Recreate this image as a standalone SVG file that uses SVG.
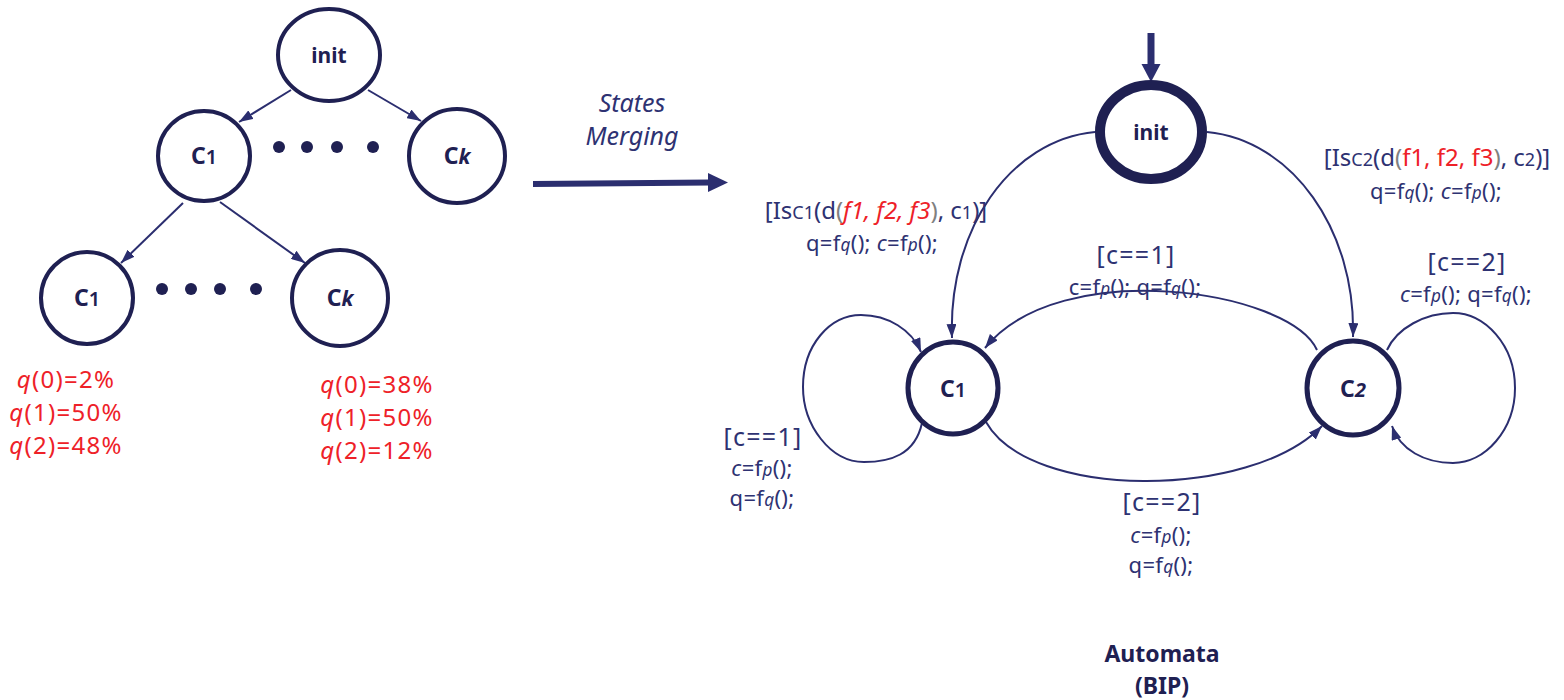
<svg xmlns="http://www.w3.org/2000/svg" width="1564" height="700" viewBox="0 0 1564 700">
<defs>
<style>
.nd{fill:#ffffff;stroke:#1f2052;}
.t4{stroke-width:4;}
.t5{stroke-width:5;}
.t10{stroke-width:10;}
.lbl{font-family:"Noto Sans","Open Sans",sans-serif;fill:#2e3272;}
.nt{font-family:"Noto Sans","Open Sans",sans-serif;fill:#1f2052;font-weight:bold;text-anchor:middle;}
.red{font-family:"Noto Sans","Open Sans",sans-serif;fill:#ee2128;font-size:24px;letter-spacing:1.3px;text-anchor:middle;}
.ed{fill:none;stroke:#2b2e6f;stroke-width:2;}
.mid{text-anchor:middle;}
.g{fill:#808080;}
.r{fill:#ee2128;}
.sub{font-size:75%;}
.sb{font-size:78%;}
.it{font-style:italic;}
.gd{font-size:25px;letter-spacing:1.3px;}
.ac{font-size:22px;letter-spacing:0.3px;}
</style>
<marker id="ah" viewBox="0 0 14 10" refX="14" refY="5" markerWidth="14" markerHeight="10" markerUnits="userSpaceOnUse" orient="auto">
<path d="M0,0 L14,5 L0,10 z" fill="#2b2e6f"/>
</marker>
</defs>
<rect width="1564" height="700" fill="#ffffff"/>

<g id="connectors">
<path class="ed" d="M291,90 L239,122" marker-end="url(#ah)"/>
<path class="ed" d="M368,90 L421,121" marker-end="url(#ah)"/>
<path class="ed" d="M183,203 L121,263" marker-end="url(#ah)"/>
<path class="ed" d="M220,202 L305,263" marker-end="url(#ah)"/>
<path d="M533,184 L710,182.5" stroke="#2b2e6f" stroke-width="6" fill="none"/>
<path d="M708,173 L728,182.5 L708,192 z" fill="#2b2e6f"/>
<path d="M1151,33 L1151,66" stroke="#2b2e6f" stroke-width="7" fill="none"/>
<path d="M1141.5,64 L1151,82 L1160.5,64 z" fill="#2b2e6f"/>
<path class="ed" d="M1095,132 C1010,140 948,230 952,338" marker-end="url(#ah)"/>
<path class="ed" d="M1207,132 C1292,140 1356,230 1353,337" marker-end="url(#ah)"/>
<path class="ed" d="M1317,350 C1290,290 1060,255 985,348" marker-end="url(#ah)"/>
<path class="ed" d="M986,422 C1030,500 1250,500 1322,426" marker-end="url(#ah)"/>
<path class="ed" d="M922,423 C915,455 890,462 864,462 C830,462 803,425 803,387 C803,345 830,315 861,315 C888,315 912,330 921,352" marker-end="url(#ah)"/>
<path class="ed" d="M1387,350 C1397,328 1425,313 1453,313 C1485,313 1515,345 1515,388 C1515,430 1485,463 1453,463 C1425,463 1400,450 1392,426" marker-end="url(#ah)"/>
</g>

<g id="tree-init">
<ellipse class="nd t4" cx="329" cy="55" rx="51" ry="46"/>
<text class="nt" x="329" y="63" font-size="21">init</text>
</g>
<g id="tree-c1">
<ellipse class="nd t4" cx="204" cy="156" rx="46" ry="45"/>
<text class="nt" x="204" y="164" font-size="23">C<tspan font-size="20" font-weight="600">1</tspan></text>
</g>
<g id="tree-ck">
<ellipse class="nd t4" cx="457" cy="156" rx="48" ry="47"/>
<text class="nt" x="457" y="164" font-size="23">C<tspan font-style="italic" font-size="21">k</tspan></text>
</g>
<g id="tree-dots1" fill="#1f2052">
<circle cx="279" cy="147" r="6"/>
<circle cx="307" cy="147" r="6"/>
<circle cx="337" cy="147" r="6"/>
<circle cx="373" cy="147" r="6"/>
</g>
<g id="tree-c1b">
<ellipse class="nd t4" cx="87" cy="298" rx="46" ry="46"/>
<text class="nt" x="87" y="306" font-size="23">C<tspan font-size="20" font-weight="600">1</tspan></text>
</g>
<g id="tree-ckb">
<ellipse class="nd t4" cx="340" cy="298" rx="48" ry="48"/>
<text class="nt" x="340" y="306" font-size="23">C<tspan font-style="italic" font-size="21">k</tspan></text>
</g>
<g id="tree-dots2" fill="#1f2052">
<circle cx="162" cy="289" r="6"/>
<circle cx="191" cy="289" r="6"/>
<circle cx="220" cy="289" r="6"/>
<circle cx="256" cy="289" r="6"/>
</g>
<g id="probs-left">
<text class="red" x="66" y="388"><tspan class="it">q</tspan>(0)=2%</text>
<text class="red" x="66" y="421"><tspan class="it">q</tspan>(1)=50%</text>
<text class="red" x="66" y="454"><tspan class="it">q</tspan>(2)=48%</text>
</g>
<g id="probs-right">
<text class="red" x="377" y="393"><tspan class="it">q</tspan>(0)=38%</text>
<text class="red" x="377" y="426"><tspan class="it">q</tspan>(1)=50%</text>
<text class="red" x="377" y="459"><tspan class="it">q</tspan>(2)=12%</text>
</g>

<g id="merge-label">
<text class="lbl mid it" x="632" y="112" font-size="25">States</text>
<text class="lbl mid it" x="632" y="145" font-size="25">Merging</text>
</g>

<g id="aut-init">
<ellipse class="nd t10" cx="1151" cy="132" rx="51" ry="47"/>
<text class="nt" x="1151" y="140" font-size="21">init</text>
</g>
<g id="aut-c1">
<ellipse class="nd t5" cx="953" cy="388" rx="45" ry="46"/>
<text class="nt" x="953" y="397" font-size="23">C<tspan font-size="20" font-weight="600">1</tspan></text>
</g>
<g id="aut-c2">
<ellipse class="nd t5" cx="1353" cy="388" rx="46" ry="47"/>
<text class="nt" x="1353" y="397" font-size="23">C<tspan font-size="20" font-style="italic">2</tspan></text>
</g>

<g id="labels">
<text class="lbl mid" x="876" y="219" font-size="24">[Is<tspan class="sub">C1</tspan>(d<tspan class="g">(</tspan><tspan class="r it">f1, f2, f3</tspan><tspan class="g">)</tspan>, c<tspan class="sub">1</tspan>)]</text>
<text class="lbl mid ac" x="872" y="251">q=f<tspan class="sb it">q</tspan>(); <tspan class="it">c</tspan>=f<tspan class="sb it">p</tspan>();</text>

<text class="lbl mid" x="1437" y="166" font-size="24">[Is<tspan class="sub">C2</tspan>(d<tspan class="g">(</tspan><tspan class="r">f1, f2, f3</tspan><tspan class="g">)</tspan>, c<tspan class="sub">2</tspan>)]</text>
<text class="lbl mid ac" x="1436" y="199">q=f<tspan class="sb it">q</tspan>(); <tspan class="it">c</tspan>=f<tspan class="sb it">p</tspan>();</text>

<text class="lbl mid gd" x="1136" y="264">[c==1]</text>
<text class="lbl mid ac" x="1135" y="295">c=f<tspan class="sb it">p</tspan>(); q=f<tspan class="sb it">q</tspan>();</text>

<text class="lbl mid gd" x="1467" y="271">[c==2]</text>
<text class="lbl mid ac" x="1466" y="302"><tspan class="it">c</tspan>=f<tspan class="sb it">p</tspan>(); q=f<tspan class="sb it">q</tspan>();</text>

<text class="lbl mid gd" x="763" y="446">[c==1]</text>
<text class="lbl mid ac" x="762" y="476"><tspan class="it">c</tspan>=f<tspan class="sb it">p</tspan>();</text>
<text class="lbl mid ac" x="762" y="506">q=f<tspan class="sb it">q</tspan>();</text>

<text class="lbl mid gd" x="1162" y="511">[c==2]</text>
<text class="lbl mid ac" x="1161" y="543"><tspan class="it">c</tspan>=f<tspan class="sb it">p</tspan>();</text>
<text class="lbl mid ac" x="1161" y="573">q=f<tspan class="sb it">q</tspan>();</text>

<text class="nt" x="1162" y="662" font-size="23" fill="#2e3272">Automata</text>
<text class="nt" x="1162" y="694" font-size="23" fill="#2e3272">(BIP)</text>
</g>
</svg>
